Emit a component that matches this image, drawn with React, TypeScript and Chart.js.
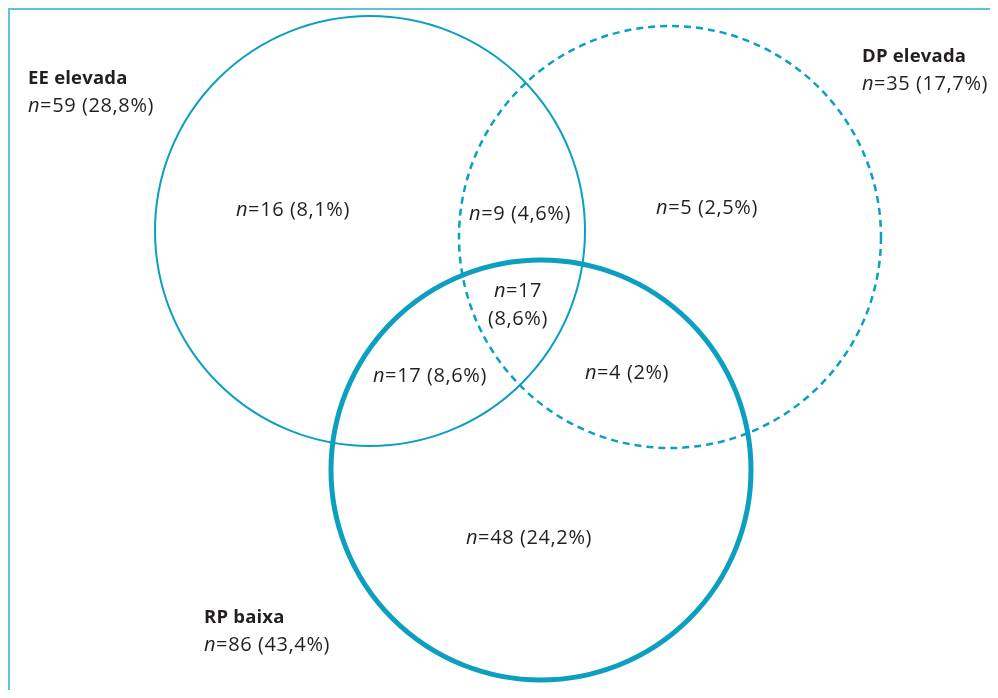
import React, { useEffect, useRef } from "react";
import { Chart, registerables } from "chart.js";

Chart.register(...registerables);

// ---- data ----
const setNames = ["EE elevada", "DP elevada", "RP baixa"];
const setN = [59, 35, 86];
const setPct = ["28,8%", "17,7%", "43,4%"];

// regions: EE only, EE∩DP, DP only, all three, EE∩RP, DP∩RP, RP only
const regionN = [16, 9, 5, 17, 17, 4, 48];
const regionPct = ["8,1%", "4,6%", "2,5%", "8,6%", "8,6%", "2%", "24,2%"];
const regionTwoLines = [false, false, false, true, false, false, false];

// ---- layout (diagram units = page pixels) ----
const circleCx = [370, 670, 541];
const circleCy = [231, 237, 470];
const circleR = [215, 211, 210];
const circleWidth = [2, 2.5, 5];
const circleDash = [[], [7, 5], []];

const setLabelX = [28, 862, 204];
const setLabelY = [79, 57, 618];

const regionX = [293, 520, 707, 518, 430, 627, 529];
const regionY = [210, 214, 208, 305, 376, 373, 538];

const COLOR = "#0c9fbf";
const TEXT = "#231f20";
const FONT = "'Open Sans', 'Noto Sans', sans-serif";
const FS = 20;
const FSB = 18.5;
const LS = "0.6px";

function drawN(ctx: any, x: number, y: number, rest: string, align: "left" | "center") {
  ctx.letterSpacing = LS;
  ctx.font = `italic ${FS}px ${FONT}`;
  const wn = ctx.measureText("n").width;
  ctx.font = `${FS}px ${FONT}`;
  const wr = ctx.measureText(rest).width;
  const start = align === "center" ? x - (wn + wr) / 2 : x;
  ctx.textAlign = "left";
  ctx.textBaseline = "middle";
  ctx.fillStyle = TEXT;
  ctx.font = `italic ${FS}px ${FONT}`;
  ctx.fillText("n", start, y);
  ctx.font = `${FS}px ${FONT}`;
  ctx.fillText(rest, start + wn, y);
  ctx.letterSpacing = "0px";
}

const vennPlugin = {
  id: "venn",
  afterDatasetsDraw(chart: any) {
    const ctx: any = chart.ctx;
    const xs = chart.scales.x;
    ctx.save();
    // circles
    const circleMeta = chart.getDatasetMeta(0);
    circleMeta.data.forEach((pt: any, i: number) => {
      const rpx = Math.abs(xs.getPixelForValue(circleCx[i] + circleR[i]) - xs.getPixelForValue(circleCx[i]));
      ctx.beginPath();
      ctx.arc(pt.x, pt.y, rpx, 0, Math.PI * 2);
      ctx.setLineDash(circleDash[i]);
      ctx.lineWidth = circleWidth[i];
      ctx.strokeStyle = COLOR;
      ctx.stroke();
    });
    ctx.setLineDash([]);
    // set labels
    const labelMeta = chart.getDatasetMeta(1);
    labelMeta.data.forEach((pt: any, i: number) => {
      ctx.letterSpacing = "0.2px";
      ctx.font = `bold ${FSB}px ${FONT}`;
      ctx.fillStyle = TEXT;
      ctx.textAlign = "left";
      ctx.textBaseline = "middle";
      ctx.fillText(setNames[i], pt.x, pt.y);
      ctx.letterSpacing = "0px";
      drawN(ctx, pt.x, pt.y + 27, `=${setN[i]} (${setPct[i]})`, "left");
    });
    // regions
    const regionMeta = chart.getDatasetMeta(2);
    regionMeta.data.forEach((pt: any, i: number) => {
      if (regionTwoLines[i]) {
        drawN(ctx, pt.x, pt.y - 14, `=${regionN[i]}`, "center");
        ctx.letterSpacing = LS;
        ctx.font = `${FS}px ${FONT}`;
        ctx.textAlign = "center";
        ctx.fillText(`(${regionPct[i]})`, pt.x, pt.y + 14);
        ctx.letterSpacing = "0px";
      } else {
        drawN(ctx, pt.x, pt.y, `=${regionN[i]} (${regionPct[i]})`, "center");
      }
    });
    ctx.restore();
  },
};

export default function App() {
  const ref = useRef<HTMLCanvasElement | null>(null);
  useEffect(() => {
    if (!ref.current) return;
    const chart = new Chart(ref.current, {
      type: "scatter",
      data: {
        datasets: [
          { label: "circles", data: circleCx.map((x, i) => ({ x, y: circleCy[i] })), pointRadius: 0 },
          { label: "sets", data: setLabelX.map((x, i) => ({ x, y: setLabelY[i] })), pointRadius: 0 },
          { label: "regions", data: regionX.map((x, i) => ({ x, y: regionY[i] })), pointRadius: 0 },
        ],
      },
      options: {
        animation: false,
        responsive: false,
        devicePixelRatio: 1,
        layout: { padding: 0 },
        plugins: { legend: { display: false }, tooltip: { enabled: false } },
        events: [],
        scales: {
          x: { type: "linear", min: 10, max: 990, display: false },
          y: { type: "linear", min: 10, max: 690, reverse: true, display: false },
        },
      },
      plugins: [vennPlugin],
    });
    return () => chart.destroy();
  }, []);
  return (
    <div
      style={{
        width: 982,
        height: 682,
        boxSizing: "border-box",
        borderLeft: "2px solid #5cc3dc",
        borderTop: "2px solid #5cc3dc",
        overflow: "hidden",
        background: "#fff",
      }}
    >
      <canvas ref={ref} width={980} height={680} style={{ display: "block" }} />
    </div>
  );
}
